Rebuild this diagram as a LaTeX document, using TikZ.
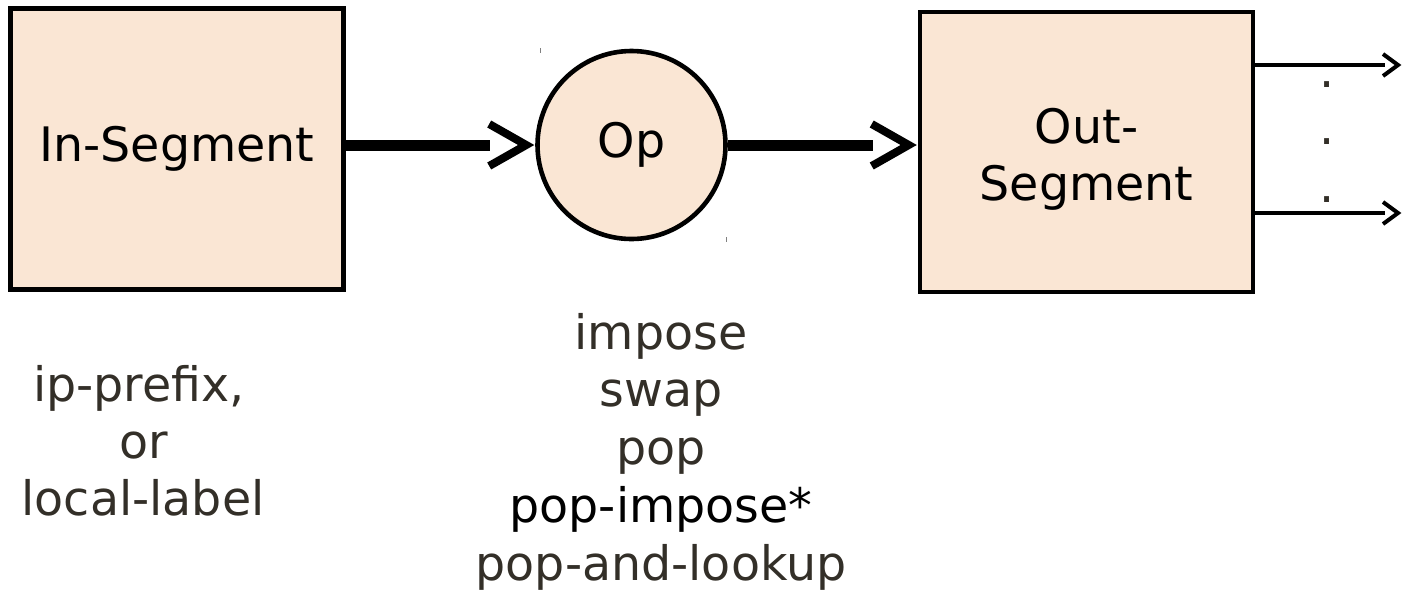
\documentclass[tikz,border=0pt]{standalone}
\usepackage{fontspec}
\setmainfont{DejaVu Sans}
\definecolor{peach}{RGB}{250,230,212}
\definecolor{txt}{RGB}{51,47,40}
\begin{document}
\begin{tikzpicture}[x=1pt,y=-1pt,
  font=\fontsize{47.5}{57}\selectfont,
  box/.style={draw=black,fill=peach,line width=4.6pt,inner sep=0pt,align=center},
  shaft/.style={line width=11pt},
  chev/.style={line width=8pt,line join=miter},
  thin shaft/.style={line width=4pt},
  thin chev/.style={line width=4pt,line join=miter},
  lbl/.style={text=txt,anchor=base,inner sep=0pt},
  tick/.style={draw=gray,line width=1pt}]
\useasboundingbox (0,0) rectangle (1404,590);
\node[box,minimum width=333pt,minimum height=281pt] (in) at (177,149) {In-Segment};
\node[box,circle,minimum size=188pt] (op) at (631.5,145) {Op};
\node[box,minimum width=333pt,minimum height=280pt] (out) at (1086.5,152) {};
\node[align=center,inner sep=0pt] (outtxt) at ([yshift=-7pt]out.center) {Out-\\Segment};
% arrow in -> op
\coordinate (t1) at ([xshift=-9pt]op.west);
\draw[shaft] (in.east |- t1) -- ([xshift=-36pt]t1);
\draw[chev] ([shift={(-37,-21)}]t1) -- (t1) -- ([shift={(-37,21)}]t1);
% arrow op -> out
\coordinate (t2) at ([xshift=-9pt]out.west |- op.center);
\draw[shaft] (op.east) -- ([xshift=-36pt]t2);
\draw[chev] ([shift={(-37,-21)}]t2) -- (t2) -- ([shift={(-37,21)}]t2);
% outputs
\coordinate (a1) at (1398,65);
\coordinate (a2) at (1398,213);
\draw[thin shaft] (out.east |- a1) -- ([xshift=-13pt]a1);
\draw[thin chev] ([shift={(-15,-11)}]a1) -- (a1) -- ([shift={(-15,11)}]a1);
\draw[thin shaft] (out.east |- a2) -- ([xshift=-13pt]a2);
\draw[thin chev] ([shift={(-15,-11)}]a2) -- (a2) -- ([shift={(-15,11)}]a2);
\node[lbl] (d1) at (1327,87) {.};
\node[lbl] (d2) at (1327,144) {.};
\node[lbl] (d3) at (1327,202) {.};
% ticks
\draw[tick] (540,48) -- (540,53);
\draw[tick] (726,237) -- (726,242);
% left label
\node[lbl] (l1) at (139,401) {ip-prefix,};
\node[lbl] (l2) at (144,458) {or};
\node[lbl] (l3) at (143,515) {local-label};
% op list
\node[lbl] (m1) at (661,349) {impose};
\node[lbl] (m2) at (661,406) {swap};
\node[lbl] (m3) at (661,464) {pop};
\node[lbl,text=black] (m4) at (661,522) {pop-impose*};
\node[lbl] (m5) at (661,580) {pop-and-lookup};
\end{tikzpicture}
\end{document}
